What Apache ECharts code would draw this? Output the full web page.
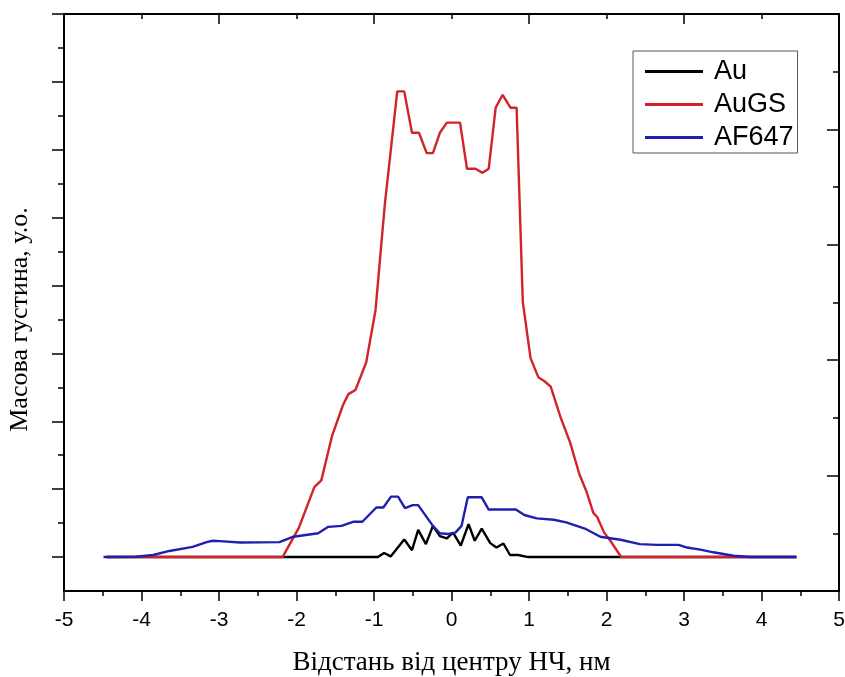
<!DOCTYPE html>
<html>
<head>
<meta charset="utf-8">
<script src="https://cdn.jsdelivr.net/npm/echarts@6/dist/echarts.min.js"></script>
<style>
html,body{margin:0;padding:0;background:#fff;}
#chart{width:845px;height:677px;}
</style>
</head>
<body>
<div id="chart"></div>
<script>
// Series names
const seriesNames = ['Au', 'AuGS', 'AF647'];

// [distance (nm), mass density (a.u.)]
const auData = [
  [-4.45,0],[-0.95,0],[-0.87,0.06],[-0.785,0.01],[-0.61,0.26],[-0.51,0.10],[-0.43,0.40],
  [-0.33,0.19],[-0.24,0.46],[-0.15,0.31],[-0.06,0.275],[0.02,0.36],[0.12,0.17],[0.22,0.485],
  [0.30,0.24],[0.39,0.42],[0.50,0.205],[0.58,0.14],[0.67,0.20],[0.755,0.03],[0.86,0.03],
  [0.99,0],[4.45,0]
];
const augsData = [
  [-4.45,0],[-2.18,0],[-1.97,0.43],[-1.77,1.03],[-1.68,1.13],[-1.54,1.79],[-1.40,2.24],
  [-1.33,2.40],[-1.24,2.46],[-1.10,2.87],[-0.98,3.64],[-0.86,5.2],[-0.70,6.86],[-0.61,6.86],
  [-0.51,6.25],[-0.42,6.25],[-0.32,5.95],[-0.24,5.95],[-0.15,6.25],[-0.06,6.40],[0.11,6.40],
  [0.20,5.72],[0.31,5.72],[0.40,5.66],[0.48,5.72],[0.57,6.62],[0.66,6.81],[0.76,6.62],
  [0.84,6.62],[0.92,3.76],[1.02,2.93],[1.12,2.65],[1.20,2.59],[1.28,2.51],[1.41,2.05],
  [1.53,1.69],[1.65,1.22],[1.74,0.97],[1.83,0.65],[1.88,0.59],[1.97,0.36],[2.05,0.24],
  [2.19,0],[4.45,0]
];
const af647Data = [
  [-4.49,0],[-4.07,0.005],[-3.85,0.03],[-3.64,0.09],[-3.34,0.15],[-3.16,0.22],[-3.08,0.24],
  [-2.99,0.235],[-2.73,0.215],[-2.22,0.22],[-2.04,0.30],[-1.72,0.35],[-1.59,0.445],
  [-1.42,0.46],[-1.27,0.52],[-1.15,0.52],[-0.97,0.73],[-0.88,0.73],[-0.78,0.89],[-0.69,0.89],
  [-0.60,0.72],[-0.50,0.765],[-0.43,0.765],[-0.24,0.46],[-0.15,0.35],[-0.04,0.34],[0.05,0.36],
  [0.13,0.46],[0.21,0.88],[0.39,0.88],[0.48,0.70],[0.83,0.70],[0.94,0.62],[1.10,0.57],
  [1.32,0.55],[1.48,0.51],[1.72,0.42],[1.92,0.30],[2.18,0.255],[2.43,0.19],[2.65,0.18],
  [2.93,0.18],[3.04,0.14],[3.21,0.11],[3.38,0.07],[3.64,0.02],[3.86,0],[4.45,0]
];

// Tick values
const leftMajorTicks = [0,1,2,3,4,5,6,7,8];
const leftMinorTicks = [0.5,1.5,2.5,3.5,4.5,5.5,6.5,7.5];

const colors = ['#000000', '#d2232a', '#2020b0'];
const sans = 'Liberation Sans, Arial, sans-serif';
const serif = 'Liberation Serif, Times New Roman, serif';

const chart = echarts.init(document.getElementById('chart'), null, {renderer: 'canvas'});

const axisLineStyle = {color: '#000', width: 2};
const tickStyle = {color: '#000', width: 1.5};

const option = {
  animation: false,
  backgroundColor: '#fff',
  grid: {left: 64, right: 6, top: 14, bottom: 86, containLabel: false, outerBoundsMode: 'none'},
  legend: {
    data: seriesNames,
    orient: 'vertical',
    left: 633,
    top: 51,
    padding: [7, 4, 2, 12],
    itemGap: 6,
    itemWidth: 58,
    itemHeight: 3,
    icon: 'rect',
    borderColor: '#555',
    borderWidth: 1,
    textStyle: {fontFamily: sans, fontSize: 27, color: '#000', padding: [0, 0, 0, 6]}
  },
  xAxis: [
    {
      type: 'value', position: 'bottom', min: -5, max: 5, interval: 1,
      axisLine: {show: true, onZero: false, lineStyle: axisLineStyle},
      axisTick: {show: true, inside: false, length: 10, lineStyle: tickStyle},
      minorTick: {show: true, splitNumber: 2, length: 5, lineStyle: tickStyle},
      axisLabel: {show: true, margin: 19, fontFamily: sans, fontSize: 21, color: '#000'},
      splitLine: {show: false},
      name: 'Відстань від центру НЧ, нм',
      nameLocation: 'middle',
      nameGap: 58,
      nameTextStyle: {fontFamily: serif, fontSize: 27, color: '#000'}
    },
    {
      type: 'value', position: 'top', min: 0, max: 10, interval: 2,
      axisLine: {show: true, onZero: false, lineStyle: axisLineStyle},
      axisTick: {show: true, inside: true, length: 10, lineStyle: tickStyle},
      minorTick: {show: true, splitNumber: 2, length: 5, lineStyle: tickStyle},
      axisLabel: {show: false},
      splitLine: {show: false}
    }
  ],
  yAxis: [
    {
      type: 'value', position: 'left', min: -0.5, max: 8, interval: 0.5,
      axisLine: {show: true, onZero: false, lineStyle: axisLineStyle},
      axisTick: {show: true, inside: false, length: 12, customValues: leftMajorTicks, lineStyle: tickStyle},
      axisLabel: {show: false},
      splitLine: {show: false},
      name: 'Масова густина, у.о.',
      nameLocation: 'middle',
      nameGap: 31,
      nameTextStyle: {fontFamily: serif, fontSize: 26, color: '#000', padding: [0, 34, 0, 0]}
    },
    {
      type: 'value', position: 'left', min: -0.5, max: 8, interval: 0.5,
      axisLine: {show: false, onZero: false},
      axisTick: {show: true, inside: false, length: 6, customValues: leftMinorTicks, lineStyle: tickStyle},
      axisLabel: {show: false},
      splitLine: {show: false}
    },
    {
      type: 'value', position: 'right', min: 0, max: 5, interval: 1,
      axisLine: {show: true, onZero: false, lineStyle: axisLineStyle},
      axisTick: {show: true, inside: true, length: 12, lineStyle: tickStyle},
      minorTick: {show: true, splitNumber: 2, length: 6, lineStyle: tickStyle},
      axisLabel: {show: false},
      splitLine: {show: false}
    }
  ],
  series: [
    {name: seriesNames[0], type: 'line', data: auData, xAxisIndex: 0, yAxisIndex: 0,
     symbol: 'none', showSymbol: false, color: colors[0], lineStyle: {color: colors[0], width: 2.4}},
    {name: seriesNames[1], type: 'line', data: augsData, xAxisIndex: 0, yAxisIndex: 0,
     symbol: 'none', showSymbol: false, color: colors[1], lineStyle: {color: colors[1], width: 2.4}},
    {name: seriesNames[2], type: 'line', data: af647Data, xAxisIndex: 0, yAxisIndex: 0,
     symbol: 'none', showSymbol: false, color: colors[2], lineStyle: {color: colors[2], width: 2.4}}
  ]
};
chart.setOption(option);
</script>
</body>
</html>
